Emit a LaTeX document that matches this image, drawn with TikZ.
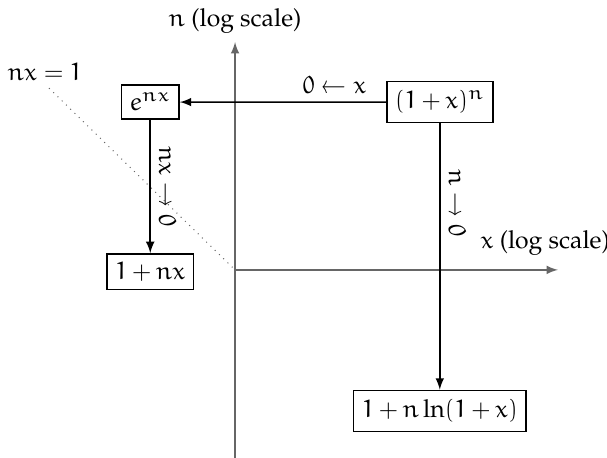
\documentclass[tikz,border=0pt]{standalone}
\usepackage[T1]{fontenc}
\usepackage{mathpazo}
\usepackage{euler}
\begin{document}
\begin{tikzpicture}[scale=0.86, >=latex, semithick, box/.style={draw}, axis/.style={black!60, ->}]
            \useasboundingbox (-3.88,-3.10) rectangle (6.14,4.455);
            \draw[axis] (0,-3.10) -- (0,3.76) node[above, black] {$n$ (log scale)};
            \draw[axis] (0,0) -- (5.33,0);
            \node[black] (xlab) at (5.12,0.45) {$x$ (log scale)};

            \node (nxlab) at (-3.14,3.27) {$nx = 1$};
            \coordinate (o) at (0,0);
            \draw[dotted, thin, black!60] (-3.07,3.00) -- (o);

            \node[box] (exp) at (-1.40,2.77) {$e^{nx}$};
            \node[box] (pow) at (3.38,2.77) {$(1+x)^n$};
            \node[box] (lin) at (-1.40,-0.03) {$1+nx$};
            \node[box] (log) at (3.38,-2.33) {$1+n\ln(1+x)$};

            \draw[->] (pow) -- (exp) node[pos=0.25, above] {$0 \leftarrow x$};
            \draw[->] (exp) -- (lin) node[midway, rotate=-90, anchor=south] {$nx \to 0$};
            \draw[->] (pow) -- (log) node[pos=0.3, rotate=-90, anchor=south] {$n \to 0$};
        \end{tikzpicture}
\end{document}
